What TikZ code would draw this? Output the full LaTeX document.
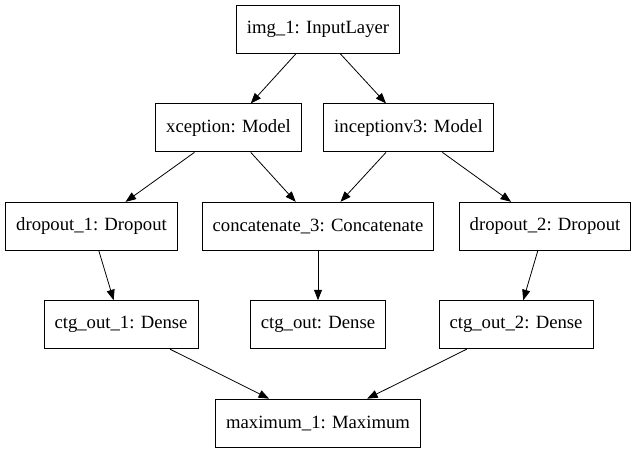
\documentclass[tikz,border=0pt]{standalone}
\usepackage{fontspec}
\setmainfont{Liberation Serif}
\newfontfamily\boxfont{Liberation Serif}
\usepackage{tikz}
\usetikzlibrary{arrows.meta,positioning}

\begin{document}
\begin{tikzpicture}[
    x=1pt, y=-1pt,
    node distance=49.5pt,
    box/.style={rectangle, draw, line width=0.9pt, minimum height=48pt, inner xsep=10.5pt, align=center, font=\boxfont\fontsize{18.7}{22}\selectfont},
    arrow/.style={-{Triangle[length=10.5pt,width=8pt]}, line width=0.8pt}
]
\useasboundingbox (0,0) rectangle (637,449);
\node[box] (img) at (318,29.5) {img\_1: InputLayer};
\node[box, below=of img, xshift=-89.5pt] (xception) {xception: Model};
\node[box, below=of img, xshift=90.5pt] (inception) {inceptionv3: Model};
\node[box, below=of xception, xshift=-137pt] (drop1) {dropout\_1: Dropout};
\node[box, below=of xception, xshift=89.5pt] (concat) {concatenate\_3: Concatenate};
\node[box, below=of inception, xshift=136.5pt] (drop2) {dropout\_2: Dropout};
\node[box, below=of drop1, xshift=29.5pt] (ctg1) {ctg\_out\_1: Dense};
\node[box, below=of concat] (ctg) {ctg\_out: Dense};
\node[box, below=of drop2, xshift=-29pt] (ctg2) {ctg\_out\_2: Dense};
\node[box, below=of ctg] (maxi) {maximum\_1: Maximum};

\draw[arrow] (img) -- (xception);
\draw[arrow] (img) -- (inception);
\draw[arrow] (xception) -- (drop1);
\draw[arrow] (xception) -- (concat);
\draw[arrow] (inception) -- (concat);
\draw[arrow] (inception) -- (drop2);
\draw[arrow] (drop1) -- (ctg1);
\draw[arrow] (concat) -- (ctg);
\draw[arrow] (drop2) -- (ctg2);
\draw[arrow] (ctg1) -- (maxi);
\draw[arrow] (ctg2) -- (maxi);
\end{tikzpicture}
\end{document}
